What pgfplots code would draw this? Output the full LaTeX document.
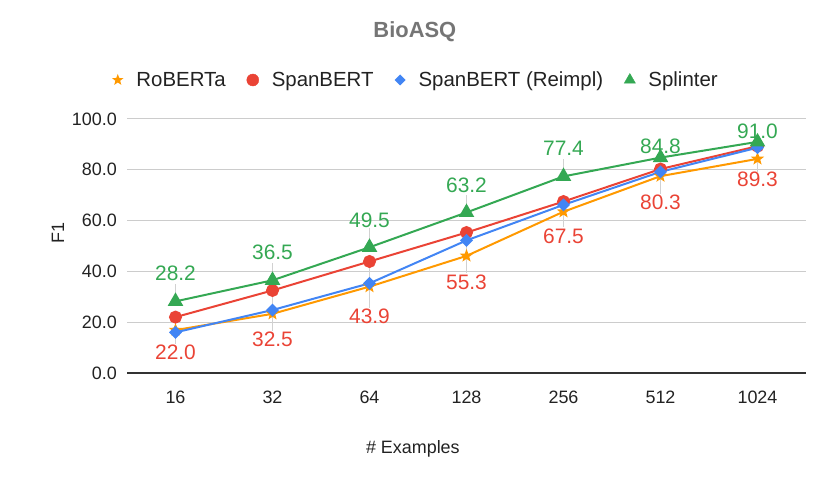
\documentclass[border=0pt]{standalone}
\usepackage{fontspec}
\setmainfont{Liberation Sans}
\usepackage{pgfplots}
\usepackage{pgfplotstable}
\pgfplotsset{compat=1.18}
\definecolor{cOr}{HTML}{FF9900}
\definecolor{cRed}{HTML}{EA4335}
\definecolor{cBlue}{HTML}{4285F4}
\definecolor{cGreen}{HTML}{34A853}
\definecolor{cTitle}{HTML}{757575}
\definecolor{cText}{HTML}{222222}
\definecolor{cGrid}{HTML}{CCCCCC}
\definecolor{cAxis}{HTML}{333333}
\pgfdeclareplotmark{fstar}{%
  \pgfpathmoveto{\pgfpointpolar{90}{\pgfplotmarksize}}%
  \pgfpathlineto{\pgfpointpolar{126}{0.42\pgfplotmarksize}}%
  \pgfpathlineto{\pgfpointpolar{162}{\pgfplotmarksize}}%
  \pgfpathlineto{\pgfpointpolar{198}{0.42\pgfplotmarksize}}%
  \pgfpathlineto{\pgfpointpolar{234}{\pgfplotmarksize}}%
  \pgfpathlineto{\pgfpointpolar{270}{0.42\pgfplotmarksize}}%
  \pgfpathlineto{\pgfpointpolar{306}{\pgfplotmarksize}}%
  \pgfpathlineto{\pgfpointpolar{342}{0.42\pgfplotmarksize}}%
  \pgfpathlineto{\pgfpointpolar{18}{\pgfplotmarksize}}%
  \pgfpathlineto{\pgfpointpolar{54}{0.42\pgfplotmarksize}}%
  \pgfpathclose\pgfusepathqfill}
\pgfdeclareplotmark{sqdiamond}{%
  \pgfpathmoveto{\pgfqpoint{0pt}{\pgfplotmarksize}}%
  \pgfpathlineto{\pgfqpoint{\pgfplotmarksize}{0pt}}%
  \pgfpathlineto{\pgfqpoint{0pt}{-\pgfplotmarksize}}%
  \pgfpathlineto{\pgfqpoint{-\pgfplotmarksize}{0pt}}%
  \pgfpathclose\pgfusepathqfill}

\pgfplotstableread{
x y
0 16.9
1 23.3
2 34.0
3 46.1
4 63.5
5 77.5
6 84.3
}\roberta
\pgfplotstableread{
x y
0 22.0
1 32.5
2 43.9
3 55.3
4 67.5
5 80.3
6 89.3
}\spanbert
\pgfplotstableread{
x y
0 16.0
1 24.8
2 35.3
3 52.2
4 66.2
5 79.2
6 88.7
}\reimpl
\pgfplotstableread{
x y
0 28.2
1 36.5
2 49.5
3 63.2
4 77.4
5 84.8
6 91.0
}\splinter
\pgfplotstableread{
x y lab dy ep em
0 28.2 28.2 28 7 0
1 36.5 36.5 28 7 0
2 49.5 49.5 27 7.5 0
3 63.2 63.2 27.5 7 0
4 77.4 77.4 28 7 0
5 84.8 84.8 11 0 0
6 91.0 91.0 11 0 0
}\greenlab
\pgfplotstableread{
x y lab dy ep em
0 22.0 22.0 -35 0 10.5
1 32.5 32.5 -49.5 0 16
2 43.9 43.9 -55.5 0 18.5
3 55.3 55.3 -49.5 0 16
4 67.5 67.5 -34.5 0 10
5 80.3 80.3 -33 0 10
6 89.3 89.3 -33 0 10
}\redlab

\begin{document}
\begin{tikzpicture}
\path[use as bounding box] (0,0) rectangle (830bp,479bp);
\begin{axis}[
  at={(127bp,106bp)}, anchor=south west,
  scale only axis, width=679bp, height=254bp,
  xmin=-0.5, xmax=6.5, ymin=0, ymax=100,
  xtick={0,...,6}, xticklabels={16,32,64,128,256,512,1024},
  ytick={0,20,...,100}, yticklabels={0.0,20.0,40.0,60.0,80.0,100.0},
  major tick length=0pt,
  axis line style={draw=none},
  ymajorgrids, grid style={cGrid, line width=1bp},
  extra y ticks={0}, extra y tick labels={},
  extra y tick style={grid style={cAxis, line width=1.3bp}},
  tick label style={font=\fontsize{18}{20}\selectfont, text=cText},
  yticklabel style={anchor=east, inner sep=0pt, xshift=-10bp},
  xticklabel style={anchor=base, inner sep=0pt, yshift=-30bp},
  ylabel={F1},
  ylabel style={at={(axis description cs:0,0.551)}, anchor=center, yshift=69bp,
    font=\fontsize{18}{20}\selectfont, text=cText},
  xlabel={\# Examples},
  xlabel style={at={(axis description cs:0.421,0)}, anchor=center, yshift=-76bp,
    font=\fontsize{18}{20}\selectfont, text=cText},
  title={BioASQ},
  title style={at={(axis description cs:0.424,1)}, anchor=center, yshift=81bp,
    font=\bfseries\fontsize{22}{24}\selectfont, text=cTitle},
  legend style={at={(0.424,1)}, anchor=center, yshift=39bp, draw=none, fill=none,
    font=\fontsize{20.5}{22}\selectfont, text=cText, nodes={inner sep=0pt},
    /tikz/every odd column/.append style={column sep=13bp},
    /tikz/every even column/.append style={column sep=21bp}},
  legend columns=4, legend cell align=left,
  legend image code/.code={\draw[#1] plot coordinates {(0bp,0bp)};},
  clip=false,
]
\addlegendimage{only marks, mark=fstar, mark size=6bp, color=cOr}
\addlegendentry{RoBERTa}
\addlegendimage{only marks, mark=*, mark size=6bp, color=cRed}
\addlegendentry{SpanBERT}
\addlegendimage{only marks, mark=sqdiamond, mark size=5.5bp, color=cBlue}
\addlegendentry{SpanBERT (Reimpl)}
\addlegendimage{only marks, mark=triangle*, mark size=6.5bp, color=cGreen}
\addlegendentry{Splinter}

% leader lines
\addplot[forget plot, only marks, mark=none,
  error bars/.cd, y dir=both, y explicit, error mark=none,
  error bar style={color=black!18, line width=0.8bp}]
  table[x=x, y=y, y error plus=ep, y error minus=em] {\greenlab};
\addplot[forget plot, only marks, mark=none,
  error bars/.cd, y dir=both, y explicit, error mark=none,
  error bar style={color=black!18, line width=0.8bp}]
  table[x=x, y=y, y error plus=ep, y error minus=em] {\redlab};

\addplot[forget plot, cOr, line width=2bp, mark=fstar, mark size=7bp] table[x=x,y=y] {\roberta};
\addplot[forget plot, cRed, line width=2bp, mark=*, mark size=5.5bp] table[x=x,y=y] {\spanbert};
\addplot[forget plot, cBlue, line width=2bp, mark=sqdiamond, mark size=6.5bp] table[x=x,y=y] {\reimpl};
\addplot[forget plot, cGreen, line width=2bp, mark=triangle*, mark size=7bp] table[x=x,y=y] {\splinter};

% data labels
\addplot[forget plot, only marks, mark=none, nodes near coords, point meta=explicit symbolic,
  visualization depends on={\thisrow{dy} \as \dy},
  every node near coord/.append style={anchor=center, yshift=\dy, inner sep=0pt,
    font=\fontsize{21}{23}\selectfont, text=cGreen}]
  table[x=x, y=y, meta=lab] {\greenlab};
\addplot[forget plot, only marks, mark=none, nodes near coords, point meta=explicit symbolic,
  visualization depends on={\thisrow{dy} \as \dy},
  every node near coord/.append style={anchor=center, yshift=\dy, inner sep=0pt,
    font=\fontsize{21}{23}\selectfont, text=cRed}]
  table[x=x, y=y, meta=lab] {\redlab};
\end{axis}
\end{tikzpicture}
\end{document}
